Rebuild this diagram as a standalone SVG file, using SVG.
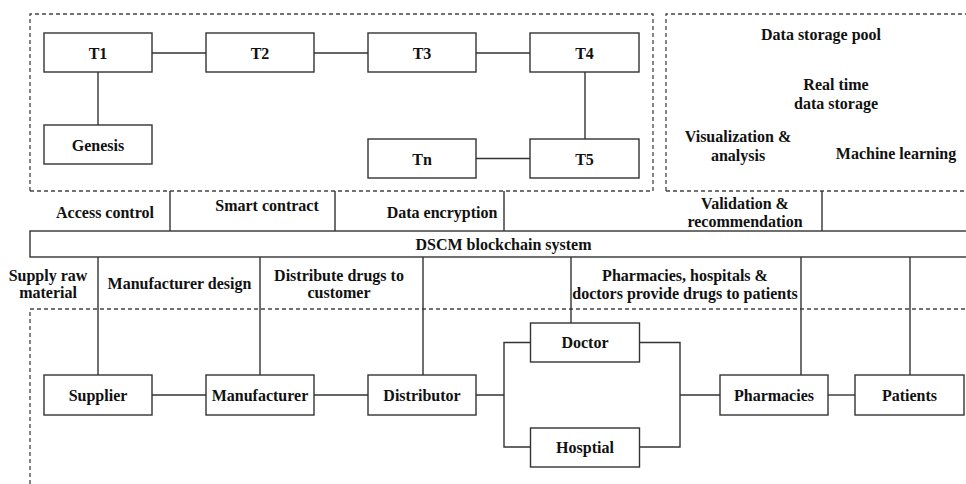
<svg xmlns="http://www.w3.org/2000/svg" width="966" height="484" viewBox="0 0 966 484">
<style>
.bx{fill:#fff;stroke:#333;stroke-width:1.4}
.ln{fill:none;stroke:#333;stroke-width:1.4}
.ds{fill:none;stroke:#444;stroke-width:1.3;stroke-dasharray:4 3}
text{font-family:"Liberation Serif","Times New Roman",serif;font-weight:bold;font-size:16px;fill:#111;text-anchor:middle}
</style>
<rect width="966" height="484" fill="#fff"/>
<g id="panels">
<path class="ds" d="M30,191 V14 H653 V191 H30"/>
<path class="ds" d="M666,191 V14 H966"/>
<path class="ds" d="M666,191 H966"/>
<path class="ds" d="M30,484 V309 H966"/>
</g>
<g id="connectors">
<path class="ln" d="M152,53 H206 M314,53 H368 M476,53 H530"/>
<path class="ln" d="M98,72 V125"/>
<path class="ln" d="M585,72 V139"/>
<path class="ln" d="M476,158.5 H530"/>
<path class="ln" d="M170,191 V231 M335,191 V231 M504,191 V231 M822,191 V231"/>
<path class="ln" d="M98,257 V375 M260,257 V375 M423,257 V375 M571,257 V323 M801,257 V375 M910,257 V375"/>
<path class="ln" d="M152,395 H206 M314,395 H368"/>
<path class="ln" d="M476,395 H504 M530,342.5 H504 V447 H530"/>
<path class="ln" d="M639,342.5 H680 V447 H639 M680,395 H720"/>
<path class="ln" d="M828,395 H855"/>
</g>
<g id="T1"><rect class="bx" x="44" y="33" width="108" height="39"/><text x="98" y="58.5">T1</text></g>
<g id="T2"><rect class="bx" x="206" y="33" width="108" height="39"/><text x="260" y="58.5">T2</text></g>
<g id="T3"><rect class="bx" x="368" y="33" width="108" height="39"/><text x="422" y="58.5">T3</text></g>
<g id="T4"><rect class="bx" x="530" y="33" width="109" height="39"/><text x="584.5" y="58.5">T4</text></g>
<g id="Genesis"><rect class="bx" x="44" y="125" width="108" height="39"/><text x="98" y="150.5">Genesis</text></g>
<g id="Tn"><rect class="bx" x="368" y="139" width="108" height="39"/><text x="422" y="164.5">Tn</text></g>
<g id="T5"><rect class="bx" x="530" y="139" width="109" height="39"/><text x="584.5" y="164.5">T5</text></g>
<g id="storage">
<text x="821" y="40">Data storage pool</text>
<text x="836" y="90">Real time</text>
<text x="836" y="108.5">data storage</text>
<text x="738" y="142">Visualization &amp;</text>
<text x="738" y="160.5">analysis</text>
<text x="896" y="158.5">Machine learning</text>
</g>
<g id="services">
<text x="105" y="217.5">Access control</text>
<text x="267" y="211">Smart contract</text>
<text x="442" y="217.5">Data encryption</text>
<text x="745" y="208.5">Validation &amp;</text>
<text x="745" y="226.5">recommendation</text>
</g>
<g id="DSCM"><rect class="bx" x="30" y="231" width="945" height="26"/><text x="503.5" y="250">DSCM blockchain system</text></g>
<g id="processes">
<text x="48" y="280.5">Supply raw</text>
<text x="48" y="298">material</text>
<text x="179.5" y="289">Manufacturer design</text>
<text x="339" y="280.5">Distribute drugs to</text>
<text x="339" y="298">customer</text>
<text x="685" y="280.5">Pharmacies, hospitals &amp;</text>
<text x="685" y="299">doctors provide drugs to patients</text>
</g>
<g id="Supplier"><rect class="bx" x="44" y="375" width="108" height="40"/><text x="98" y="400.5">Supplier</text></g>
<g id="Manufacturer"><rect class="bx" x="206" y="375" width="108" height="40"/><text x="260" y="400.5">Manufacturer</text></g>
<g id="Distributor"><rect class="bx" x="368" y="375" width="108" height="40"/><text x="422" y="400.5">Distributor</text></g>
<g id="Doctor"><rect class="bx" x="530.5" y="323" width="109" height="39"/><text x="585" y="348">Doctor</text></g>
<g id="Hosptial"><rect class="bx" x="530.5" y="428" width="109" height="39"/><text x="585" y="453">Hosptial</text></g>
<g id="Pharmacies"><rect class="bx" x="720" y="375" width="108" height="40"/><text x="774" y="400.5">Pharmacies</text></g>
<g id="Patients"><rect class="bx" x="855" y="375" width="109" height="40"/><text x="909.5" y="400.5">Patients</text></g>
</svg>
